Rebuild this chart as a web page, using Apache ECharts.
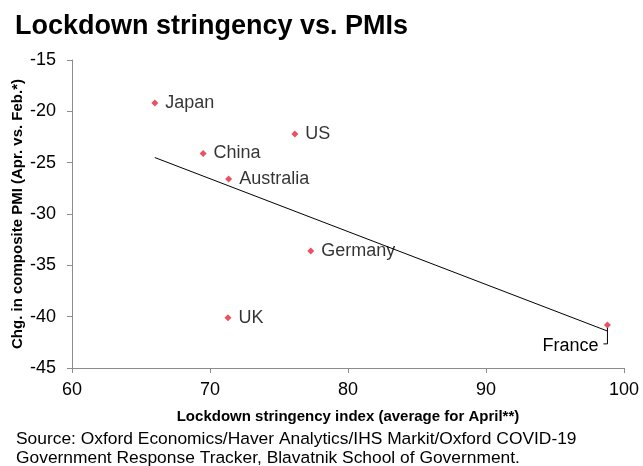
<!DOCTYPE html>
<html>
<head>
<meta charset="utf-8">
<script src="https://cdn.jsdelivr.net/npm/echarts@6/dist/echarts.min.js"></script>
<style>
  html, body { margin: 0; padding: 0; background: #fff; }
  #chart { width: 643px; height: 466px; }
</style>
</head>
<body>
<div id="chart"></div>
<script>
// Countries, average April stringency index and change in composite PMI
const countries = ['Japan', 'US', 'China', 'Australia', 'Germany', 'France', 'UK'];
const stringency = [66.0, 76.15, 69.5, 71.35, 77.3, 98.8, 71.3];
const pmiChange = [-19.2, -22.2, -24.1, -26.6, -33.6, -40.8, -40.1];

// Linear trend line end points
const trendX = [66.0, 98.8];
const trendY = [-24.5, -41.4];

// Axis ticks
const xTicks = [60, 70, 80, 90, 100];
const yTicks = [-45, -40, -35, -30, -25, -20, -15];

// Country whose label sits below-left of its point with a leader
const leaderCountry = 'France';

const FONT = '"Liberation Sans", Arial, sans-serif';
const RED = '#e3283a';
const AXIS_GREY = '#8c8c8c';

const points = countries.map((c, i) => ({
  name: c,
  value: [stringency[i], pmiChange[i]],
  label: { show: c !== leaderCountry }
}));

const leaderIndex = countries.indexOf(leaderCountry);

const chart = echarts.init(document.getElementById('chart'), null, { renderer: 'canvas' });

chart.setOption({
  animation: false,
  backgroundColor: '#ffffff',
  textStyle: { fontFamily: FONT },
  title: [
    {
      text: 'Lockdown stringency vs. PMIs',
      left: 15,
      top: 13,
      padding: 0,
      textStyle: { fontFamily: FONT, fontSize: 27, fontWeight: 'bold', color: '#000' }
    },
    {
      text: 'Source: Oxford Economics/Haver Analytics/IHS Markit/Oxford COVID-19\nGovernment Response Tracker, Blavatnik School of Government.',
      left: 16,
      top: 430,
      padding: 0,
      textStyle: { fontFamily: FONT, fontSize: 17.4, fontWeight: 'normal', color: '#000', lineHeight: 19 }
    }
  ],
  grid: { left: 72, right: 19, top: 60, bottom: 98, containLabel: false, outerBoundsMode: 'none' },
  xAxis: {
    type: 'value',
    min: xTicks[0],
    max: xTicks[xTicks.length - 1],
    interval: xTicks[1] - xTicks[0],
    name: 'Lockdown stringency index (average for April**)',
    nameLocation: 'middle',
    nameGap: 41,
    nameMoveOverlap: false,
    nameTextStyle: { fontFamily: FONT, fontSize: 15, fontWeight: 'bold', color: '#000' },
    axisLine: { show: true, onZero: false, lineStyle: { color: AXIS_GREY, width: 1 } },
    axisTick: { show: true, inside: false, length: 5, lineStyle: { color: AXIS_GREY } },
    axisLabel: { fontFamily: FONT, fontSize: 18, color: '#000', margin: 13 },
    splitLine: { show: false }
  },
  yAxis: {
    type: 'value',
    min: yTicks[0],
    max: yTicks[yTicks.length - 1],
    interval: yTicks[1] - yTicks[0],
    name: 'Chg. in composite PMI (Apr. vs. Feb.*)',
    nameLocation: 'middle',
    nameGap: 47,
    nameMoveOverlap: false,
    nameTextStyle: { fontFamily: FONT, fontSize: 15, fontWeight: 'bold', color: '#000' },
    axisLine: { show: true, onZero: false, lineStyle: { color: AXIS_GREY, width: 1 } },
    axisTick: { show: true, inside: false, length: 5, lineStyle: { color: AXIS_GREY } },
    axisLabel: { fontFamily: FONT, fontSize: 18, color: '#000', margin: 16 },
    splitLine: { show: false }
  },
  series: [
    {
      // trend line
      type: 'line',
      data: trendX.map((x, i) => [x, trendY[i]]),
      symbol: 'none',
      lineStyle: { color: '#000', width: 1 },
      silent: true,
      z: 2
    },
    {
      type: 'scatter',
      data: points,
      symbol: 'diamond',
      symbolSize: 7,
      itemStyle: { color: RED },
      label: {
        position: 'right',
        distance: 7,
        formatter: '{b}',
        fontFamily: FONT,
        fontSize: 18,
        color: '#000'
      },
      z: 3
    },
    {
      // label with elbow leader for the point drawn below-left
      type: 'custom',
      data: [[stringency[leaderIndex], pmiChange[leaderIndex]]],
      renderItem: function (params, api) {
        const p = api.coord([api.value(0), api.value(1)]);
        return {
          type: 'group',
          children: [
            {
              type: 'polyline',
              shape: { points: [[p[0], p[1] + 3], [p[0], p[1] + 19], [p[0] - 4, p[1] + 19]] },
              style: { stroke: '#000', lineWidth: 1, fill: null }
            },
            {
              type: 'text',
              x: p[0] - 9,
              y: p[1] + 21,
              style: {
                text: countries[leaderIndex],
                fontFamily: FONT,
                fontSize: 18,
                fill: '#000',
                align: 'right',
                verticalAlign: 'middle'
              }
            }
          ]
        };
      },
      silent: true,
      z: 4
    }
  ]
});
</script>
</body>
</html>
